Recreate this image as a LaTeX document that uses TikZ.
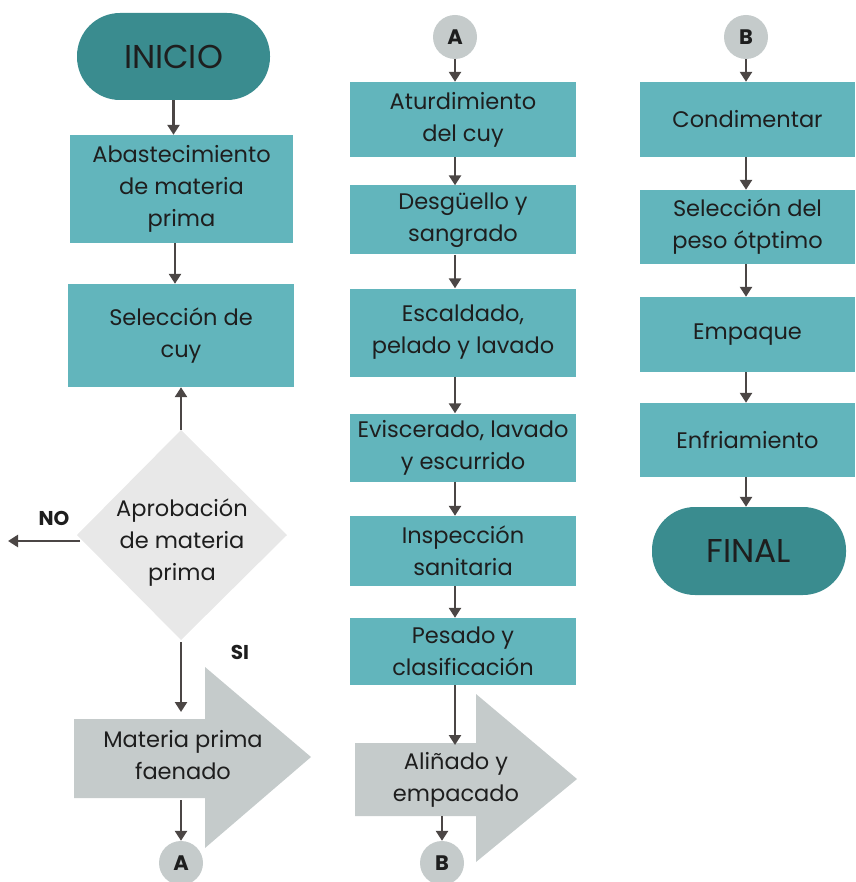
\documentclass[tikz,border=0pt]{standalone}
\usepackage{fontspec}
\setmainfont{Poppins}
\usetikzlibrary{arrows.meta,calc,shapes.geometric}
\definecolor{teal1}{HTML}{3A8C8F}
\definecolor{boxc}{HTML}{62B5BC}
\definecolor{diac}{HTML}{E8E8E8}
\definecolor{greyc}{HTML}{C5CBCB}
\definecolor{linec}{HTML}{4B4645}
\definecolor{txtc}{HTML}{1E1E1E}
\begin{document}
\begin{tikzpicture}[x=1pt,y=-1pt,
  every node/.style={text=txtc},
  box/.style={rectangle,fill=boxc,inner sep=0pt,align=center,font=\fontsize{22.5}{32}\selectfont},
  term/.style={rectangle,rounded corners=43pt,fill=teal1,inner sep=0pt,font=\fontsize{33}{38}\selectfont},
  conn/.style={circle,fill=greyc,minimum size=44pt,inner sep=0pt,font=\fontsize{21}{24}\selectfont\bfseries},
  txt/.style={align=center,font=\fontsize{22.5}{32}\selectfont},
  lbl/.style={font=\fontsize{20}{22}\selectfont\bfseries},
  arr/.style={draw=linec,line width=2.6pt,-{Triangle[width=12pt,length=10pt]}}
]
\useasboundingbox (0,0) rectangle (855,882);

% ---------- column 1 ----------
\node[term,minimum width=193pt,minimum height=87pt] (inicio) at (173.5,56.5) {INICIO};
\node[box,minimum width=223pt,minimum height=108pt] (b1) at (181.5,189) {Abastecimiento\\de materia\\prima};
\node[box,minimum width=226pt,minimum height=103pt] (b2) at (181,335.5) {Selección de\\cuy};

\coordinate (dtop) at (181,430);
\coordinate (dbot) at (181,640);
\coordinate (dleft) at (77,535);
\coordinate (dright) at (287,535);
\fill[diac] (dtop) -- (dright) -- (dbot) -- (dleft) -- cycle;
\node[txt] (diam) at (182,543) {Aprobación\\de materia\\prima};
\coordinate (noend) at (8,541);
\node[lbl] (no) at (54,518) {NO};
\node[lbl] (si) at (240,652) {SI};

% big arrow 1
\fill[greyc] (74,719) -- (205,719) -- (205,667) -- (311,757) -- (205,848) -- (205,798) -- (74,798) -- cycle;
\node[inner sep=0pt,minimum width=131pt,minimum height=79pt] (f1) at (139.5,758.5) {};
\node[txt] (f1t) at (183,755) {Materia prima\\faenado};

\node[conn] (ca1) at (181,863) {A};

\draw[arr] (inicio.south) -- (inicio.south |- b1.north);
\draw[arr] (b1.south -| 175,0) -- (b2.north -| 175,0);
\draw[arr] (dtop) -- (b2.south -| dtop);
\draw[arr] (80,541) -- (noend);
\draw[arr] ($(dbot)+(0,2)$) -- (181,712);
\draw[arr] ($(f1.south)+(41.5,2)$) -- (ca1.north);

% ---------- column 2 ----------
\node[conn] (ca2) at (455,37) {A};
\node[box,minimum width=226pt,minimum height=75pt] (c1) at (463,119.5) {Aturdimiento\\del cuy};
\node[box,minimum width=226pt,minimum height=69pt] (c2) at (463,220) {Desgüello y\\sangrado};
\node[box,minimum width=226pt,minimum height=88pt] (c3) at (463,332.5) {Escaldado,\\pelado y lavado};
\node[box,minimum width=226pt,minimum height=68pt] (c4) at (463,447.5) {Eviscerado, lavado\\y escurrido};
\node[box,minimum width=226pt,minimum height=70pt] (c5) at (463,551) {Inspección\\sanitaria};
\node[box,minimum width=226pt,minimum height=67pt] (c6) at (463,651.5) {Pesado y\\clasificación};

\fill[greyc] (355,743) -- (476,743) -- (476,694) -- (577,779) -- (476,862) -- (476,816) -- (355,816) -- cycle;
\node[inner sep=0pt,minimum width=121pt,minimum height=73pt] (f2) at (415.5,779.5) {};
\node[txt] (f2t) at (456,780) {Aliñado y\\empacado};

\node[conn] (cb1) at (442,863) {B};

\draw[arr] (ca2.south) -- (ca2.south |- c1.north);
\draw[arr] (c1.south -| ca2) -- (c2.north -| ca2);
\draw[arr] (c2.south -| ca2) -- (c3.north -| ca2);
\draw[arr] (c3.south -| ca2) -- (c4.north -| ca2);
\draw[arr] (c4.south -| ca2) -- (c5.north -| ca2);
\draw[arr] (c5.south -| ca2) -- (c6.north -| ca2);
\draw[arr] (c6.south -| ca2) -- (455,745);
\draw[arr] (f2.south -| cb1) -- (cb1.north);

% ---------- column 3 ----------
\node[conn] (cb2) at (746,37) {B};
\node[box,minimum width=215pt,minimum height=75pt] (d1) at (747.5,119.5) {Condimentar};
\node[box,minimum width=215pt,minimum height=74pt] (d2) at (747.5,227) {Selección del\\peso ótptimo};
\node[box,minimum width=215pt,minimum height=75pt] (d3) at (747.5,334.5) {Empaque};
\node[box,minimum width=215pt,minimum height=74pt] (d4) at (747.5,440) {Enfriamiento};
\node[term,minimum width=194pt,minimum height=88pt] (final) at (749,551) {FINAL};

\draw[arr] (cb2.south) -- (cb2.south |- d1.north);
\draw[arr] (d1.south -| cb2) -- (d2.north -| cb2);
\draw[arr] (d2.south -| cb2) -- (d3.north -| cb2);
\draw[arr] (d3.south -| cb2) -- (d4.north -| cb2);
\draw[arr] (d4.south -| cb2) -- (final.north -| cb2);
\end{tikzpicture}
\end{document}
